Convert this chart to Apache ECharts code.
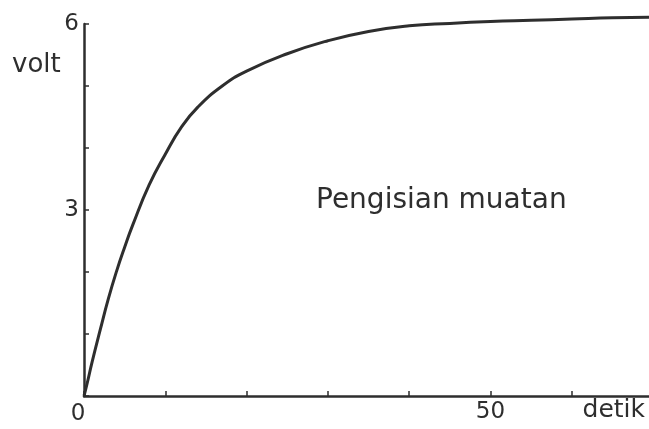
<!DOCTYPE html>
<html>
<head>
<meta charset="utf-8">
<script src="https://cdn.jsdelivr.net/npm/echarts@6/dist/echarts.min.js"></script>
<style>
  html, body { margin: 0; padding: 0; background: #ffffff; }
  #chart { width: 649px; height: 429px; }
</style>
</head>
<body>
<div id="chart"></div>
<script>
// Capacitor charging curve: voltage (volt) against time (detik)
const timeSec = [0, 0.4, 1, 2, 3, 4, 5, 6, 8, 10, 12, 14, 17, 20, 25, 30, 35, 40, 45, 50, 55, 60, 65, 69.5];
const voltage = [0, 0.21, 0.55, 1.07, 1.57, 2.01, 2.40, 2.76, 3.40, 3.90, 4.34, 4.66, 5.00, 5.24, 5.52, 5.73, 5.88, 5.97, 6.01, 6.04, 6.06, 6.08, 6.10, 6.11];
const xLabels = [0, 50];
const yLabels = [3, 6];
const curveLabel = 'Pengisian muatan';

const ink = '#2e2e2e';
const font = 'DejaVu Sans';

const chart = echarts.init(document.getElementById('chart'), null, { renderer: 'canvas' });
chart.setOption({
  backgroundColor: '#ffffff',
  animation: false,
  grid: { left: 84, right: 0, top: 24, bottom: 33, containLabel: false },
  xAxis: {
    type: 'value',
    min: 0, max: 69.5, interval: 10,
    name: 'detik',
    nameLocation: 'end',
    nameGap: 0,
    nameTextStyle: { color: ink, fontFamily: font, fontSize: 25, align: 'right', verticalAlign: 'top', padding: [2, 4, 0, 0] },
    axisLine: { show: true, lineStyle: { color: ink, width: 2.5 } },
    axisTick: { show: true, inside: true, length: 5, lineStyle: { color: ink, width: 1.5 } },
    axisLabel: {
      color: ink, fontFamily: font, fontSize: 23, margin: 5,
      showMaxLabel: false,
      // the origin label sits slightly left of the corner
      formatter: v => (v === 0 ? '{o|0}' : xLabels.includes(v) ? String(v) : ''),
      rich: { o: { fontFamily: font, fontSize: 23, color: ink, padding: [2, 12, 0, 0] } }
    },
    splitLine: { show: false }
  },
  yAxis: {
    type: 'value',
    min: 0, max: 6, interval: 1,
    axisLine: { show: true, lineStyle: { color: ink, width: 2.5 } },
    axisTick: { show: true, inside: true, length: 5, lineStyle: { color: ink, width: 1.5 } },
    axisLabel: {
      color: ink, fontFamily: font, fontSize: 23, margin: 5,
      formatter: v => (yLabels.includes(v) ? String(v) : '')
    },
    splitLine: { show: false }
  },
  graphic: [
    { type: 'text', left: 12, top: 52, style: { text: 'volt', fill: ink, font: '26px "' + font + '"' } },
    { type: 'text', left: 316, top: 187, style: { text: curveLabel, fill: ink, font: '28px "' + font + '"' } }
  ],
  series: [{
    type: 'line',
    data: timeSec.map((t, i) => [t, voltage[i]]),
    smooth: 0.5,
    showSymbol: false,
    clip: false,
    lineStyle: { color: ink, width: 3 }
  }]
});
</script>
</body>
</html>
